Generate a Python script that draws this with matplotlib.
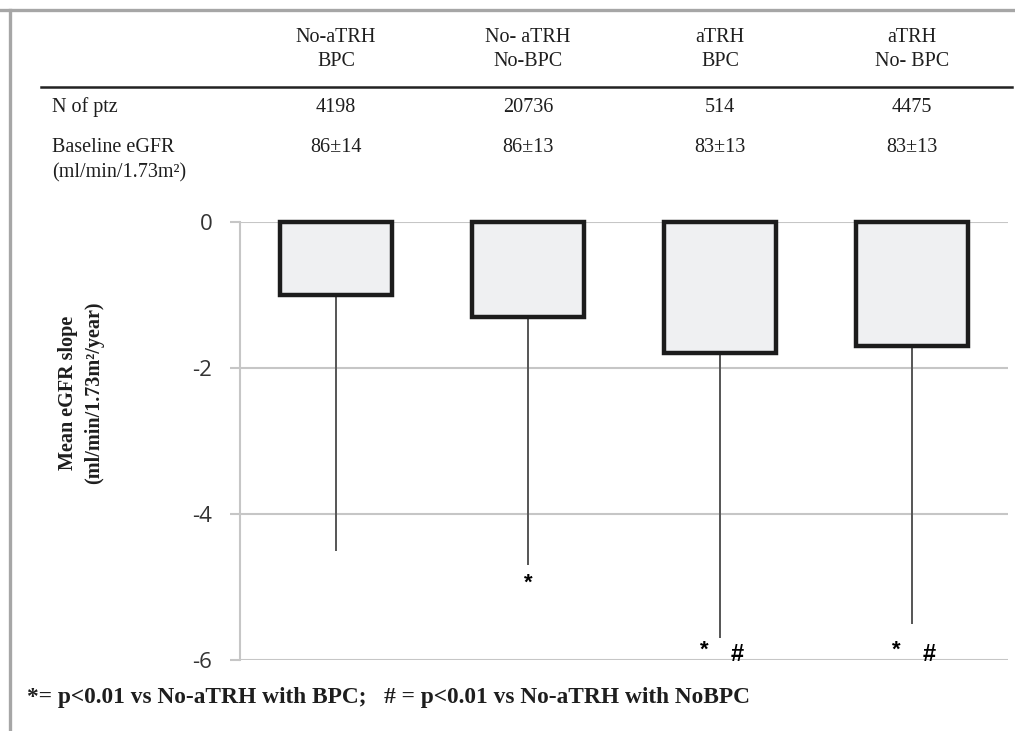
import numpy as np
import matplotlib
matplotlib.use("Agg")
import matplotlib.pyplot as plt
from matplotlib.lines import Line2D
from matplotlib.transforms import blended_transform_factory

# Datos
grupos = ["No-aTRH\nBPC", "No- aTRH\nNo-BPC", "aTRH\nBPC", "aTRH\nNo- BPC"]
n_ptz = ["4198", "20736", "514", "4475"]
egfr_basal = ["86±14", "86±13", "83±13", "83±13"]
pendiente = [-1.0, -1.3, -1.8, -1.7]
limite_inf = [-4.5, -4.7, -5.7, -5.5]
marcas = [[], ["*"], ["*", "#"], ["*", "#"]]
yticks = [0, -2, -4, -6]

W, H = 1015, 731
fy = lambda p: 1 - p / H
fx = lambda p: p / W

serif = "Liberation Serif"
sans = "Open Sans"
txt = "#1e1e1e"

fig = plt.figure(figsize=(W / 100, H / 100), dpi=100)
ax = fig.add_axes([fx(240), fy(660), fx(1008) - fx(240), fy(222) - fy(660)])

x = np.arange(len(grupos))
vals = np.array(pendiente)
err = vals - np.array(limite_inf)

ax.errorbar(x, vals, yerr=[err, np.zeros_like(err)], fmt="none",
            ecolor="#555555", elinewidth=1.4, capsize=0, zorder=2)
ax.bar(x, vals, width=0.58, color="#eff0f2", edgecolor="#1c1c1c",
       linewidth=3.2, zorder=3, clip_on=False)

ax.set_xlim(-0.5, len(grupos) - 0.5)
ax.set_ylim(-6, 0)
ax.set_yticks(yticks)
ax.set_yticklabels([str(t) for t in yticks], fontfamily=sans, fontsize=16,
                   color="#333333")
ax.tick_params(axis="y", length=7, width=1.5, color="#c6c6c6", pad=13)
ax.set_xticks([])
ax.grid(axis="y", color="#c6c6c6", linewidth=1.5, zorder=0)
ax.set_axisbelow(True)
for s in ["top", "right", "bottom"]:
    ax.spines[s].set_visible(False)
ax.spines["left"].set_color("#c6c6c6")
ax.spines["left"].set_linewidth(1.5)

# Significatividad
for i, ms in enumerate(marcas):
    if ms == ["*"]:
        ax.text(i, limite_inf[i] - 0.25, "*", ha="center", va="center",
                fontsize=16, fontweight="bold", fontfamily="Liberation Sans")
    elif ms:
        ax.text(i - 0.08, -5.86, ms[0], ha="center", va="center",
                fontsize=16, fontweight="bold", fontfamily="Liberation Sans")
        ax.text(i + 0.09, -5.92, ms[1], ha="center", va="center",
                fontsize=17, fontweight="bold", fontfamily="Liberation Sans")

# Tabla superior
tr = blended_transform_factory(ax.transData, fig.transFigure)
for i in range(len(grupos)):
    l1, l2 = grupos[i].split("\n")
    ax.text(i, fy(38), l1, transform=tr, ha="center", va="center",
            fontfamily=serif, fontsize=14.5, color=txt)
    ax.text(i, fy(62), l2, transform=tr, ha="center", va="center",
            fontfamily=serif, fontsize=14.5, color=txt)
    ax.text(i, fy(107), n_ptz[i], transform=tr, ha="center", va="center",
            fontfamily=serif, fontsize=14.5, color=txt)
    ax.text(i, fy(147), egfr_basal[i], transform=tr, ha="center", va="center",
            fontfamily=serif, fontsize=14.5, color=txt)

fig.text(fx(52), fy(107), "N of ptz", ha="left", va="center",
         fontfamily=serif, fontsize=14.5, color=txt)
fig.text(fx(52), fy(147), "Baseline eGFR", ha="left", va="center",
         fontfamily=serif, fontsize=14.5, color=txt)
fig.text(fx(52), fy(173), "(ml/min/1.73m²)", ha="left", va="center",
         fontfamily=serif, fontsize=14.5, color=txt)
fig.add_artist(Line2D([fx(41), fx(1012)], [fy(87), fy(87)],
                      color="#222222", linewidth=1.8))

# Eje Y
fig.text(fx(68), fy(393), "Mean eGFR slope", rotation=90, ha="center",
         va="center", fontfamily=serif, fontsize=14.5, fontweight="bold",
         color=txt)
fig.text(fx(94), fy(393), "(ml/min/1.73m²/year)", rotation=90, ha="center",
         va="center", fontfamily=serif, fontsize=14.5, fontweight="bold",
         color=txt)

# Nota
fig.text(fx(27), fy(697),
         "*= p<0.01 vs No-aTRH with BPC;   # = p<0.01 vs No-aTRH with NoBPC",
         ha="left", va="center", fontfamily=serif, fontsize=16.8,
         fontweight="bold", color=txt)

# Marco
fig.add_artist(Line2D([0, 1], [fy(10), fy(10)], color="#a6a6a6", linewidth=2.4))
fig.add_artist(Line2D([fx(10), fx(10)], [0, fy(10)], color="#a6a6a6", linewidth=2.4))

fig.savefig("out.png", dpi=100)
